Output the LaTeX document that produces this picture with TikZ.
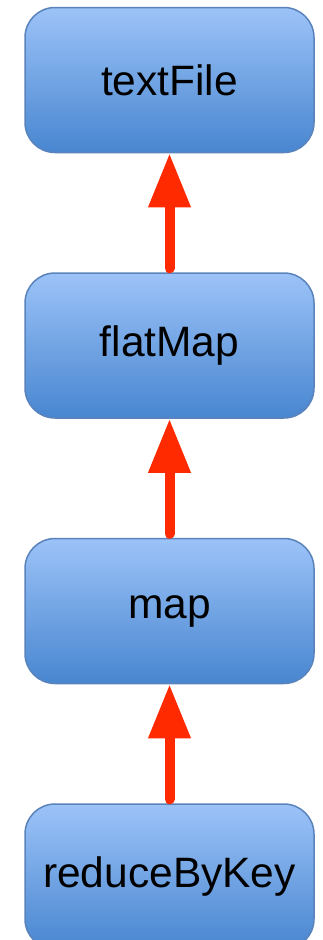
\documentclass[tikz,border=0pt]{standalone}
\usepackage{fontspec}
\setmainfont{Liberation Sans}
\usetikzlibrary{positioning,arrows.meta}

\definecolor{boxtop}{HTML}{9CC3F8}
\definecolor{boxbottom}{HTML}{4886D0}
\definecolor{boxline}{HTML}{5A83BC}
\definecolor{flowred}{HTML}{FF2A00}

\tikzset{
  stage/.style={rectangle,rounded corners=30pt,draw=boxline,line width=1.5pt,
    top color=boxtop,bottom color=boxbottom,minimum width=289pt,
    minimum height=145pt,inner sep=0pt,font=\fontsize{42.5}{46}\selectfont},
  flow/.style={draw=flowred,line width=10pt,line cap=round,shorten <=4pt,
    -{Triangle[length=54pt,width=40pt]}}
}

\begin{document}
\begin{tikzpicture}[x=1pt,y=1pt,node distance=119pt]
  \useasboundingbox (0,0) rectangle (322,-940);

  \node [stage] (textfile) at (169.5,-80) {textFile};
  \node [stage,below=of textfile] (flatmap) {flatMap};
  \node [stage,below=of flatmap] (map) {map};
  \node [stage,below=of map] (reducebykey) {reduceByKey};

  \draw [flow] (flatmap.north) -- (textfile.south);
  \draw [flow] (map.north) -- (flatmap.south);
  \draw [flow] (reducebykey.north) -- (map.south);
\end{tikzpicture}
\end{document}
